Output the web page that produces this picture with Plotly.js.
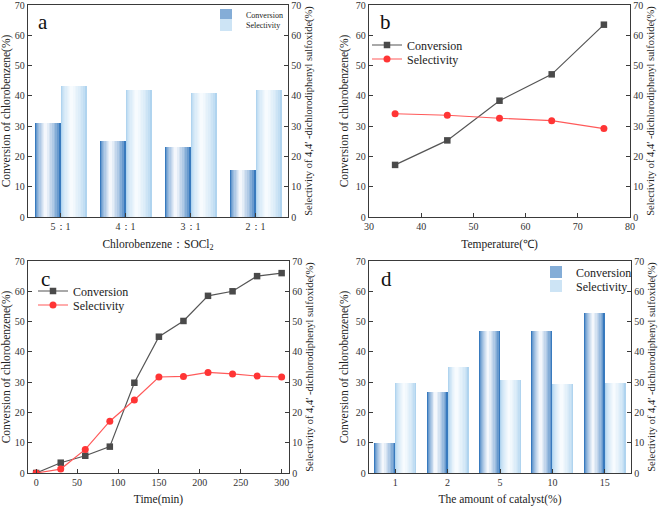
<!DOCTYPE html>
<html><head><meta charset="utf-8">
<script src="https://cdn.plot.ly/plotly-3.0.1.min.js"></script>
<style>html,body{margin:0;padding:0;background:#fff}#chart{width:661px;height:506px}</style>
</head><body><div id="chart"></div>
<script>
// ---- Panel a : molar ratio ----
const ratioCats = ['5：1', '4：1', '3：1', '2：1'];
const ratioConversion = [31.0, 25.1, 23.0, 15.6];
const ratioSelectivity = [43.2, 41.8, 40.8, 41.8];
// ---- Panel b : temperature ----
const temperature = [35, 45, 55, 65, 75];
const tempConversion = [17.2, 25.3, 38.4, 47.1, 63.5];
const tempSelectivity = [34.1, 33.6, 32.6, 31.8, 29.2];
// ---- Panel c : time ----
const timeMin = [0, 30, 60, 90, 120, 150, 180, 210, 240, 270, 300];
const timeConversion = [0, 3.4, 5.7, 8.7, 29.8, 45.0, 50.2, 58.5, 60.0, 65.0, 66.0];
const timeSelectivity = [0, 1.3, 7.8, 17.1, 24.1, 31.7, 31.9, 33.2, 32.7, 32.0, 31.7];
// ---- Panel d : catalyst amount ----
const catalystCats = ['1', '2', '5', '10', '15'];
const catConversion = [10.0, 26.9, 47.0, 46.9, 52.8];
const catSelectivity = [29.8, 34.9, 30.8, 29.4, 29.8];

const SERIF = '"Liberation Serif", "Times New Roman", serif';
const convEdge = [56, 122, 190], convCenter = [244, 247, 252];
const selEdge = [176, 212, 239], selCenter = [247, 251, 254];

function mix(a, b, f) {
  return 'rgb(' + a.map((v, i) => Math.round(v + (b[i] - v) * f)).join(',') + ')';
}
// cylinder-like gradient bars built as nested overlay bars
function gradientBars(x, y, xa, ya, baseOffset, width, edge, center, name, legendId) {
  const N = 9, h = 0.42, out = [];
  for (let k = 0; k < N; k++) {
    const f = Math.pow(k / (N - 1), 0.65);
    out.push({
      type: 'bar', x: x, y: y, xaxis: xa, yaxis: ya,
      offset: baseOffset + width * h * k / N,
      width: width * (1 - k / N),
      marker: {color: mix(edge, center, f), line: {width: 0}},
      name: name, legend: legendId,
      showlegend: k === 2, hoverinfo: 'skip'
    });
  }
  return out;
}

const traces = [];
// a
traces.push(...gradientBars(ratioCats, ratioConversion, 'x', 'y', -0.4, 0.4, convEdge, convCenter, 'Conversion', 'legend'));
traces.push(...gradientBars(ratioCats, ratioSelectivity, 'x', 'y2', 0, 0.4, selEdge, selCenter, 'Selectivity', 'legend2'));
// b
traces.push({type: 'scatter', mode: 'lines+markers', x: temperature, y: tempConversion, xaxis: 'x2', yaxis: 'y3',
  name: 'Conversion', legend: 'legend3', line: {color: '#555555', width: 1.2}, marker: {symbol: 'square', size: 6.5, color: '#4a4a4a'}});
traces.push({type: 'scatter', mode: 'lines+markers', x: temperature, y: tempSelectivity, xaxis: 'x2', yaxis: 'y4',
  name: 'Selectivity', legend: 'legend4', line: {color: '#ff5a5a', width: 1.2}, marker: {symbol: 'circle', size: 7, color: '#ff3535'}});
// c
traces.push({type: 'scatter', mode: 'lines+markers', x: timeMin, y: timeConversion, xaxis: 'x3', yaxis: 'y5',
  name: 'Conversion', legend: 'legend5', line: {color: '#555555', width: 1.2}, marker: {symbol: 'square', size: 6.5, color: '#4a4a4a'}});
traces.push({type: 'scatter', mode: 'lines+markers', x: timeMin, y: timeSelectivity, xaxis: 'x3', yaxis: 'y6',
  name: 'Selectivity', legend: 'legend6', line: {color: '#ff5a5a', width: 1.2}, marker: {symbol: 'circle', size: 7, color: '#ff3535'}});
// d
traces.push(...gradientBars(catalystCats, catConversion, 'x4', 'y7', -0.4, 0.4, convEdge, convCenter, 'Conversion', 'legend7'));
traces.push(...gradientBars(catalystCats, catSelectivity, 'x4', 'y8', 0, 0.4, selEdge, selCenter, 'Selectivity', 'legend8'));

const W = 661, H = 506;
const px = v => v / W, py = v => 1 - v / H;
const tickFont = {family: SERIF, size: 10, color: '#333'};
const titleFont = {family: SERIF, size: 11.5, color: '#222'};
const rTitleFont = {family: SERIF, size: 10.5, color: '#222'};
const axLine = {showline: true, linecolor: '#3a3a3a', linewidth: 1.3, ticks: 'inside', ticklen: 4, tickcolor: '#3a3a3a',
  showgrid: false, zeroline: false, tickfont: tickFont, ticklabeloverflow: 'allow'};

function xAx(dom, anchor, extra, title) {
  return Object.assign({}, axLine, {domain: dom, anchor: anchor, mirror: true, title: {text: title, font: titleFont, standoff: 8}}, extra);
}
function yL(dom, anchor) {
  return Object.assign({}, axLine, {domain: dom, anchor: anchor, range: [0, 70], dtick: 10,
    title: {text: 'Conversion of chlorobenzene(%)', font: titleFont, standoff: 4}});
}
function yR(over, anchor) {
  return Object.assign({}, axLine, {overlaying: over, anchor: anchor, side: 'right', range: [0, 70], dtick: 10,
    title: {text: 'Selectivity of 4,4′ -dichlorodiphenyl sulfoxide(%)', font: rTitleFont, standoff: 4}});
}
const topDom = [py(217), py(5)], botDom = [py(473), py(261)];
function leg(x, y, size) {
  return {x: px(x), y: py(y), xanchor: 'left', yanchor: 'middle', bgcolor: 'rgba(0,0,0,0)', borderwidth: 0,
    font: {family: SERIF, size: size, color: '#222'}, itemwidth: 30, tracegroupgap: 0};
}
function label(t, x, y) {
  return {text: t, x: px(x), y: py(y), xref: 'paper', yref: 'paper', xanchor: 'center', yanchor: 'middle',
    showarrow: false, font: {family: SERIF, size: 21, color: '#111'}};
}

const layout = {
  width: W, height: H, margin: {l: 0, r: 0, t: 0, b: 0},
  paper_bgcolor: '#fff', plot_bgcolor: '#fff', barmode: 'overlay', bargap: 0,
  font: {family: SERIF},
  xaxis: xAx([px(28), px(288)], 'y', {type: 'category', range: [-0.5, 3.5]}, 'Chlorobenzene：SOCl<sub>2</sub>'),
  yaxis: yL(topDom, 'x'),
  yaxis2: yR('y', 'x'),
  xaxis2: xAx([px(369), px(630)], 'y3', {range: [30, 80], dtick: 10}, 'Temperature(℃)'),
  yaxis3: yL(topDom, 'x2'),
  yaxis4: yR('y3', 'x2'),
  xaxis3: xAx([px(28), px(289)], 'y5', {range: [-10, 309], tick0: 0, dtick: 50}, 'Time(min)'),
  yaxis5: yL(botDom, 'x3'),
  yaxis6: yR('y5', 'x3'),
  xaxis4: xAx([px(369), px(631)], 'y7', {type: 'category', range: [-0.5, 4.5]}, 'The amount of catalyst(%)'),
  yaxis7: yL(botDom, 'x4'),
  yaxis8: yR('y7', 'x4'),
  legend: leg(206, 15, 8),
  legend2: leg(206, 25, 8),
  legend3: leg(367, 45, 12),
  legend4: leg(367, 59, 12),
  legend5: leg(33, 291, 12),
  legend6: leg(33, 305, 12),
  legend7: leg(536, 272, 12),
  legend8: leg(536, 286, 12),
  annotations: [label('a', 43, 22), label('b', 385, 22), label('c', 45, 279), label('d', 386, 279)]
};

Plotly.newPlot('chart', traces, layout, {displayModeBar: false, staticPlot: true});
</script>
</body></html>
